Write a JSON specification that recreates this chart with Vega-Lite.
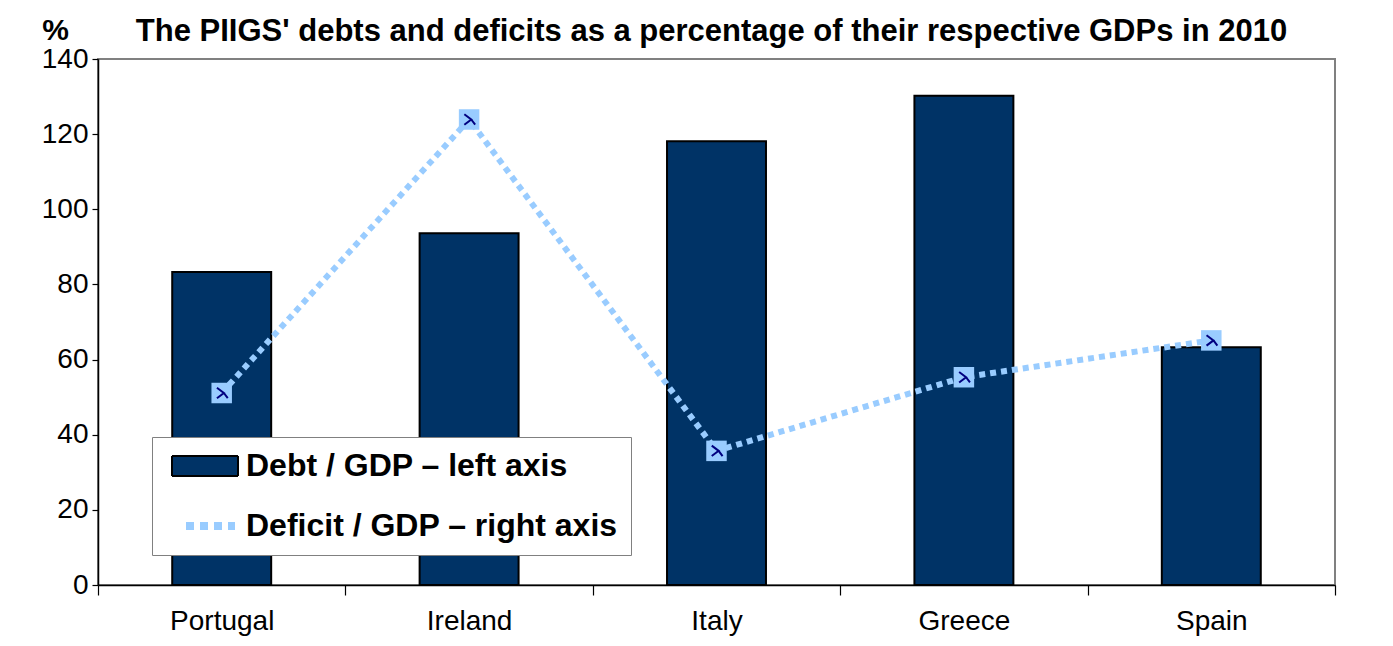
{
  "$schema": "https://vega.github.io/schema/vega-lite/v6.json",
  "width": 1237,
  "height": 526,
  "autosize": {"type": "none"},
  "padding": {"left": 98, "top": 59, "right": 58, "bottom": 61},
  "background": "white",
  "title": {
    "text": "The PIIGS' debts and deficits as a percentage of their respective GDPs in 2010",
    "font": "Liberation Sans",
    "fontSize": 31,
    "fontWeight": "bold",
    "color": "black",
    "anchor": "middle",
    "offset": 0,
    "dy": 33,
    "dx": -5
  },
  "config": {
    "view": {"stroke": "#808080", "strokeWidth": 2},
    "axis": {
      "labelFont": "Liberation Sans",
      "labelFontSize": 28,
      "labelColor": "black",
      "domainColor": "black",
      "domainWidth": 1.5,
      "tickColor": "black",
      "tickWidth": 1.2,
      "grid": false
    }
  },
  "data": {
    "values": [
      {"country": "Portugal", "debt": 83.3, "deficit": 7.3, "series": "Debt / GDP – left axis"},
      {"country": "Ireland", "debt": 93.6, "deficit": 17.7, "series": "Debt / GDP – left axis"},
      {"country": "Italy", "debt": 118.1, "deficit": 5.1, "series": "Debt / GDP – left axis"},
      {"country": "Greece", "debt": 130.2, "deficit": 7.9, "series": "Debt / GDP – left axis"},
      {"country": "Spain", "debt": 63.3, "deficit": 9.3, "series": "Debt / GDP – left axis"}
    ]
  },
  "encoding": {
    "x": {
      "field": "country",
      "type": "nominal",
      "sort": null,
      "scale": {"paddingInner": 0, "paddingOuter": 0},
      "axis": {
        "title": null,
        "labelAngle": 0,
        "tickBand": "extent",
        "tickSize": 10,
        "labelPadding": 12,
        "domainColor": "black"
      }
    }
  },
  "layer": [
    {
      "mark": {"type": "bar", "stroke": "black", "strokeWidth": 2, "width": {"band": 0.4}},
      "encoding": {
        "y": {
          "field": "debt",
          "type": "quantitative",
          "scale": {"domain": [0, 140], "nice": false},
          "axis": {
            "values": [0, 20, 40, 60, 80, 100, 120, 140],
            "title": "%",
            "titleAngle": 0,
            "titleFont": "Liberation Sans",
            "titleFontSize": 30,
            "titleFontWeight": "bold",
            "titleColor": "black",
            "titleX": -43,
            "titleY": -14,
            "titleAlign": "center",
            "titleBaseline": "bottom",
            "tickSize": 6,
            "labelPadding": 4
          }
        },
        "fill": {
          "field": "series",
          "type": "nominal",
          "scale": {"domain": ["Debt / GDP – left axis", "Deficit / GDP – right axis"], "range": ["#003366", "transparent"]},
          "legend": {
            "orient": "none",
            "legendX": 54,
            "legendY": 378,
            "title": null,
            "fillColor": "white",
            "strokeColor": "#808080",
            "padding": 13,
            "labelFont": "Liberation Sans",
            "labelFontSize": 32,
            "labelFontWeight": "bold",
            "labelColor": "black",
            "labelLimit": 0,
            "symbolSize": 1600,
            "symbolOffset": 24,
            "labelOffset": 25,
            "rowPadding": 28,
            "symbolOpacity": 1,
            "symbolType": {"expr": "datum.value === 'Debt / GDP – left axis' ? 'M-1.65,-0.5H1.65V0.5H-1.65Z' : 'M-0.95,0H1.5'"},
            "symbolStrokeColor": {"expr": "datum.value === 'Debt / GDP – left axis' ? 'black' : '#99CCFF'"},
            "symbolStrokeWidth": {"expr": "datum.value === 'Debt / GDP – left axis' ? 2 : 8"},
            "symbolDash": {"expr": "datum.value === 'Debt / GDP – left axis' ? [1, 0] : [8, 6]"}
          }
        }
      }
    },
    {
      "layer": [
        {
          "mark": {"type": "line", "color": "#99CCFF", "strokeWidth": 6, "strokeDash": [6, 5]},
          "encoding": {
            "y": {
              "field": "deficit",
              "type": "quantitative",
              "scale": {"domain": [0, 20], "nice": false},
              "axis": {
                "orient": "right",
                "values": [0, 2, 4, 6, 8, 10, 12, 14, 16, 18, 20],
                "title": "%",
                "titleAngle": 0,
                "titleFont": "Liberation Sans",
                "titleFontSize": 30,
                "titleFontWeight": "bold",
                "titleColor": "black",
                "titleX": 20,
                "titleY": -14,
                "titleAlign": "center",
                "titleBaseline": "bottom",
                "tickSize": 6,
                "labelPadding": 2
              }
            }
          }
        },
        {
          "mark": {"type": "point", "shape": "square", "filled": true, "color": "#99CCFF", "size": 420, "opacity": 1},
          "encoding": {
            "y": {"field": "deficit", "type": "quantitative", "scale": {"domain": [0, 20], "nice": false}, "axis": null}
          }
        },
        {
          "mark": {"type": "point", "shape": "M-0.55,-0.6L0.25,0L-0.55,0.6M0.25,0L0.7,0.6", "filled": false, "color": "#000080", "strokeWidth": 2, "size": 300, "opacity": 1},
          "encoding": {
            "y": {"field": "deficit", "type": "quantitative", "scale": {"domain": [0, 20], "nice": false}, "axis": null}
          }
        }
      ]
    }
  ],
  "resolve": {"scale": {"y": "independent", "fill": "independent"}}
}
